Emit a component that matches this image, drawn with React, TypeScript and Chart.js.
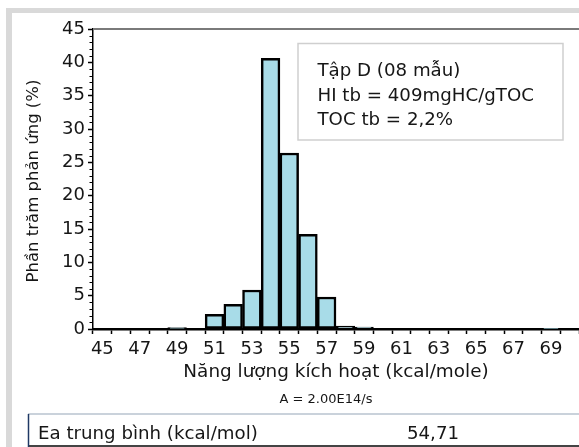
import React, { useEffect, useRef } from 'react';
import { Chart, registerables } from 'chart.js';

Chart.register(...registerables);

// Activation energy bins (kcal/mole)
const energyBins: string[] = [
  '45', '46', '47', '48', '49', '50', '51', '52', '53', '54', '55', '56', '57',
  '58', '59', '60', '61', '62', '63', '64', '65', '66', '67', '68', '69', '70',
];
// Reaction percentage per bin (%)
const reactionPercent: number[] = [
  0, 0, 0, 0, 0.2, 0, 2.2, 3.7, 5.85, 40.6, 26.4, 14.2, 4.8,
  0.45, 0.3, 0, 0, 0, 0, 0, 0, 0, 0, 0, 0.1, 0,
];
const yTicks: number[] = [0, 5, 10, 15, 20, 25, 30, 35, 40, 45];

const yTitle = 'Phần trăm phản ứng (%)';
const xTitle = 'Năng lượng kích hoạt (kcal/mole)';
const subTitle = 'A = 2.00E14/s';
const infoLines: string[] = ['Tập D (08 mẫu)', 'HI tb = 409mgHC/gTOC', 'TOC tb = 2,2%'];
const tableLabel = 'Ea trung bình (kcal/mol)';
const tableValue = '54,71';

const FONT = '"DejaVu Sans", sans-serif';

const decorPlugin = {
  id: 'decor',
  beforeDraw(chart: any) {
    const ctx = chart.ctx as CanvasRenderingContext2D;
    ctx.save();
    ctx.fillStyle = '#ffffff';
    ctx.fillRect(0, 0, chart.width, chart.height);
    ctx.fillStyle = '#d9d9d9';
    ctx.fillRect(6, 8, chart.width - 6, 5);
    ctx.fillRect(6, 8, 6, chart.height - 8);
    ctx.restore();
  },
  afterDraw(chart: any) {
    const ctx = chart.ctx as CanvasRenderingContext2D;
    const area = chart.chartArea;
    const y = chart.scales.y;
    ctx.save();
    // top frame of plot
    ctx.strokeStyle = '#7a7a7a';
    ctx.lineWidth = 2;
    ctx.beginPath();
    ctx.moveTo(area.left, area.top);
    ctx.lineTo(area.right, area.top);
    ctx.stroke();
    // minor ticks on y axis
    ctx.strokeStyle = '#000';
    ctx.lineWidth = 1;
    for (let v = 0; v <= 45; v++) {
      if (v % 5 === 0) continue;
      const py = Math.round(y.getPixelForValue(v)) + 0.5;
      ctx.beginPath();
      ctx.moveTo(area.left - 3.5, py);
      ctx.lineTo(area.left, py);
      ctx.stroke();
    }
    // info box
    ctx.fillStyle = '#ffffff';
    ctx.fillRect(298, 43.5, 265, 96.5);
    ctx.strokeStyle = '#cfcfcf';
    ctx.lineWidth = 1.5;
    ctx.strokeRect(298, 43.5, 265, 96.5);
    ctx.fillStyle = '#161616';
    ctx.font = `18.2px ${FONT}`;
    ctx.textAlign = 'left';
    ctx.textBaseline = 'alphabetic';
    infoLines.forEach((t, i) => ctx.fillText(t, 317.5, 76 + i * 24.5));
    // axis titles
    ctx.textAlign = 'center';
    ctx.font = `18.4px ${FONT}`;
    ctx.fillText(xTitle, (area.left + area.right) / 2, 376.5);
    ctx.font = `13px ${FONT}`;
    ctx.fillText(subTitle, 326, 402.5);
    ctx.save();
    ctx.translate(38, (area.top + area.bottom) / 2 + 2);
    ctx.rotate(-Math.PI / 2);
    ctx.font = `16.5px ${FONT}`;
    ctx.fillText(yTitle, 0, 0);
    ctx.restore();
    // table
    ctx.strokeStyle = '#b9c3cf';
    ctx.lineWidth = 1.5;
    ctx.beginPath();
    ctx.moveTo(28, 414);
    ctx.lineTo(chart.width, 414);
    ctx.stroke();
    ctx.strokeStyle = '#444';
    ctx.lineWidth = 2;
    ctx.beginPath();
    ctx.moveTo(28, 446);
    ctx.lineTo(chart.width, 446);
    ctx.stroke();
    ctx.strokeStyle = '#1f3864';
    ctx.lineWidth = 1.5;
    ctx.beginPath();
    ctx.moveTo(28.5, 414);
    ctx.lineTo(28.5, 447);
    ctx.stroke();
    ctx.fillStyle = '#161616';
    ctx.font = `18.2px ${FONT}`;
    ctx.textAlign = 'left';
    ctx.fillText(tableLabel, 38, 438.5);
    ctx.textAlign = 'center';
    ctx.fillText(tableValue, 433, 438.5);
    ctx.restore();
  },
};

export default function App() {
  const ref = useRef<HTMLCanvasElement | null>(null);
  useEffect(() => {
    document.body.style.margin = '0';
    const canvas = ref.current!;
    const chart = new Chart(canvas, {
      type: 'bar',
      data: {
        labels: energyBins,
        datasets: [
          {
            data: reactionPercent,
            backgroundColor: '#a8dce8',
            borderColor: '#000000',
            borderWidth: 2.5,
            borderSkipped: false,
            barPercentage: 1,
            categoryPercentage: 1,
          },
        ],
      },
      options: {
        responsive: false,
        maintainAspectRatio: false,
        animation: false,
        events: [],
        layout: { padding: { top: 29, left: 0, right: 0, bottom: 0 } },
        plugins: { legend: { display: false }, tooltip: { enabled: false } },
        scales: {
          x: {
            type: 'category',
            offset: true,
            grid: {
              offset: true,
              drawOnChartArea: false,
              tickLength: 5,
              tickColor: '#000',
              tickWidth: 1.5,
            },
            border: { color: '#000', width: 2.5 },
            ticks: {
              autoSkip: false,
              maxRotation: 0,
              padding: 5,
              color: '#161616',
              font: { family: FONT, size: 18 },
              callback: (_v: any, i: number) => (i % 2 === 0 ? energyBins[i] : ''),
            },
            afterFit: (s: any) => {
              s.height = 447 - 29 - 300;
            },
          },
          y: {
            min: 0,
            max: 45,
            afterBuildTicks: (s: any) => {
              s.ticks = yTicks.map((v) => ({ value: v }));
            },
            grid: {
              drawOnChartArea: false,
              tickLength: 5,
              tickColor: '#000',
              tickWidth: 1.5,
            },
            border: { color: '#000', width: 1.5 },
            ticks: {
              padding: 3,
              color: '#161616',
              font: { family: FONT, size: 18 },
            },
            afterFit: (s: any) => {
              s.width = 93;
            },
          },
        },
      },
      plugins: [decorPlugin],
    });
    return () => chart.destroy();
  }, []);
  return <canvas ref={ref} width={579} height={447} style={{ display: 'block' }} />;
}
